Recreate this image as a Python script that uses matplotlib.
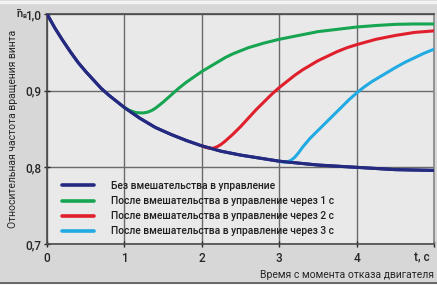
import matplotlib
matplotlib.use("Agg")
import matplotlib.pyplot as plt
from matplotlib.transforms import ScaledTranslation
from matplotlib.lines import Line2D

# Без вмешательства в управление
t_base = [0.0, 0.1, 0.2, 0.3, 0.4, 0.5, 0.6, 0.7, 0.8, 0.9, 1.0, 1.2, 1.4,
          1.6, 1.8, 2.0, 2.25, 2.5, 2.75, 3.0, 3.5, 4.0, 4.5, 5.0]
n_base = [1.000, 0.982, 0.966, 0.951, 0.937, 0.925, 0.914, 0.903, 0.894,
          0.886, 0.878, 0.864, 0.852, 0.843, 0.835, 0.828, 0.821, 0.816,
          0.812, 0.808, 0.803, 0.800, 0.797, 0.796]

# через 1 с
t_1 = [1.0, 1.05, 1.1, 1.15, 1.2, 1.25, 1.3, 1.35, 1.4, 1.45, 1.5, 1.6, 1.7,
       1.8, 1.9, 2.0, 2.1, 2.2, 2.3, 2.4, 2.5, 2.6, 2.7, 2.8, 2.9, 3.0, 3.25,
       3.5, 3.75, 4.0, 4.25, 4.5, 4.75, 5.0]
n_1 = [0.878, 0.875, 0.873, 0.8715, 0.871, 0.871, 0.872, 0.874, 0.877, 0.881,
       0.885, 0.894, 0.903, 0.911, 0.918, 0.925, 0.931, 0.937, 0.943, 0.948,
       0.952, 0.956, 0.959, 0.962, 0.9645, 0.967, 0.972, 0.977, 0.980, 0.983,
       0.985, 0.9865, 0.987, 0.987]

# через 2 с
t_2 = [2.0, 2.05, 2.1, 2.15, 2.2, 2.25, 2.3, 2.4, 2.5, 2.6, 2.7, 2.8, 2.9,
       3.0, 3.1, 3.2, 3.3, 3.4, 3.5, 3.625, 3.75, 3.875, 4.0, 4.25, 4.5,
       4.75, 5.0]
n_2 = [0.828, 0.826, 0.825, 0.825, 0.827, 0.830, 0.834, 0.843, 0.853, 0.864,
       0.875, 0.885, 0.895, 0.904, 0.912, 0.920, 0.927, 0.933, 0.939, 0.945,
       0.951, 0.956, 0.960, 0.967, 0.972, 0.976, 0.978]

# через 3 с
t_3 = [3.0, 3.05, 3.1, 3.15, 3.2, 3.25, 3.3, 3.4, 3.5, 3.6, 3.7, 3.8, 3.9,
       4.0, 4.1, 4.2, 4.3, 4.4, 4.5, 4.625, 4.75, 4.875, 5.0]
n_3 = [0.808, 0.807, 0.807, 0.809, 0.813, 0.819, 0.826, 0.838, 0.848, 0.858,
       0.868, 0.878, 0.888, 0.897, 0.905, 0.912, 0.918, 0.924, 0.930, 0.937,
       0.943, 0.949, 0.954]

labels = ["Без вмешательства в управление",
          "После вмешательства в управление через 1 с",
          "После вмешательства в управление через 2 с",
          "После вмешательства в управление через 3 с"]
colors = ["#232a80", "#17a552", "#e01f2c", "#22aae2"]

xticks = [0, 1, 2, 3, 4, 5]
xtick_labels = ["0", "1", "2", "3", "4", "t, c"]
yticks = [0.7, 0.8, 0.9, 1.0]
ytick_labels = ["0,7", "0,8", "0,9", "1,0"]

plt.rcParams["font.family"] = ["Roboto", "DejaVu Sans"]
plt.rcParams["font.weight"] = "medium"
TXT = "#262626"

W, H = 437, 286
fig = plt.figure(figsize=(W / 100, H / 100), dpi=100)
fig.patch.set_facecolor("#d7d7d7")
ax = fig.add_axes([47 / W, 1 - 244 / H, (434 - 47) / W, (244 - 14) / H])
ax.set_facecolor("#e9e9e9")

# рамка картинки: светлая полоса сверху и линия снизу
fig.add_artist(Line2D([0, 1], [1 - 1.5 / H] * 2, transform=fig.transFigure,
                      color="#f4f4f4", lw=2.5))
fig.add_artist(Line2D([0, 1], [1 - 283 / H] * 2, transform=fig.transFigure,
                      color="#555555", lw=1.2))
fig.add_artist(Line2D([0, 1], [1 - 285 / H] * 2, transform=fig.transFigure,
                      color="#ffffff", lw=2))

series = [(t_base, n_base), (t_1, n_1), (t_2, n_2), (t_3, n_3)]
for (t, n), c, lab in zip(series, colors, labels):
    ax.plot(t, n, color=c, lw=2.2, label=lab, solid_capstyle="round",
            solid_joinstyle="round", zorder=3)
ax.plot(t_base, n_base, color=colors[0], lw=2.2, solid_joinstyle="round",
        zorder=4)

ax.set_xlim(0, 5)
ax.set_ylim(0.7, 1.0)
ax.set_xticks(xticks)
ax.set_xticklabels(xtick_labels)
ax.set_yticks(yticks)
ax.set_yticklabels(ytick_labels)
ax.tick_params(axis="both", labelsize=8.5, colors=TXT, length=5,
               direction="inout", width=1)
ax.tick_params(axis="x", pad=3)
ax.tick_params(axis="y", pad=1.5)
for lbl in ax.get_xticklabels()[-1:]:
    lbl.set_ha("right")
    lbl.set_transform(lbl.get_transform() +
                      ScaledTranslation(-3 / 72, 0, fig.dpi_scale_trans))
ax.grid(True, color="#6a6a6a", lw=1)
for s in ax.spines.values():
    s.set_color("#4a4a4a")
    s.set_linewidth(1.2)
ax.spines["right"].set_color("#888888")

ax.set_ylabel("Относительная частота вращения винта", fontsize=7.5,
              color=TXT, labelpad=5)
ax.set_xlabel("Время с момента отказа двигателя", fontsize=7.5,
              color=TXT, loc="right", labelpad=4)

fig.text(19 / W, 1 - 14 / H, "n\u0304", fontsize=8, color=TXT,
         ha="center", va="center")
fig.text(24.5 / W, 1 - 16.5 / H, "в", fontsize=5, color=TXT,
         ha="center", va="center")

leg = ax.legend(loc="upper left", fontsize=7.4, frameon=False,
                handlelength=3.1, handletextpad=1.7, labelspacing=0.5,
                borderpad=0, borderaxespad=0,
                bbox_to_anchor=(62 / W, 1 - 181 / H),
                bbox_transform=fig.transFigure)
for txt in leg.get_texts():
    txt.set_color("#1e1e1e")
for ln in leg.get_lines():
    ln.set_linewidth(2.6)

fig.savefig("out.png", dpi=100, facecolor=fig.get_facecolor())
